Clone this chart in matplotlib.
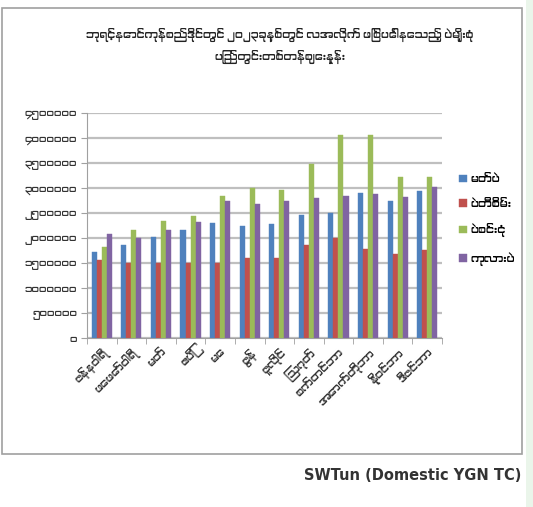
import matplotlib
matplotlib.use("Agg")
import matplotlib.pyplot as plt
import numpy as np
from matplotlib import font_manager as fm
from matplotlib.ft2font import FT2Font
from matplotlib.patches import Rectangle

# ---------------- data ----------------
months = ["ဇန်နဝါရီ", "ဖေဖော်ဝါရီ", "မတ်", "ဧပြီ", "မေ", "ဇွန်",
          "ဇူလိုင်", "ဩဂုတ်", "စက်တင်ဘာ", "အောက်တိုဘာ", "နိုဝင်ဘာ", "ဒီဇင်ဘာ"]
series_names = ["မတ်ပဲ", "ပဲတီစိမ်း", "ပဲစင်းငုံ", "ကုလားပဲ"]
matpe = [1730000, 1870000, 2030000, 2170000, 2300000, 2250000,
         2290000, 2470000, 2500000, 2910000, 2750000, 2950000]
greengram = [1570000, 1500000, 1500000, 1500000, 1500000, 1610000,
             1610000, 1870000, 2000000, 1780000, 1690000, 1770000]
pigeonpea = [1830000, 2170000, 2350000, 2450000, 2850000, 3000000,
             2970000, 3490000, 4070000, 4070000, 3220000, 3220000]
chickpea = [2080000, 2000000, 2170000, 2330000, 2750000, 2690000,
            2750000, 2810000, 2850000, 2890000, 2830000, 3030000]
y_ticks = [0, 500000, 1000000, 1500000, 2000000, 2500000,
           3000000, 3500000, 4000000, 4500000]
title = "ဘုရင့်နောင်ကုန်စည်ဒိုင်တွင် ၂၀၂၃ခုနှစ်တွင် လအလိုက် ဖြစ်ပေါ်နေသည့် ပဲမျိုးစုံ\nပြည်တွင်းတစ်တန်ဈေးနှုန်း"
source = "SWTun (Domestic YGN TC)"

colors = ["#4F81BD", "#C0504D", "#9BBB59", "#8064A2"]

# ---------------- font search (Myanmar glyphs) ----------------
my_font = None
cands = sorted(fm.fontManager.ttflist,
               key=lambda f: 0 if ("myanmar" in f.name.lower() or "padauk" in f.name.lower()) else 1)
for f in cands:
    try:
        cmap = FT2Font(f.fname).get_charmap()
    except Exception:
        continue
    if 0x1000 in cmap and 0x1031 in cmap and 0x1040 in cmap:
        my_font = f.name
        break
fam = [my_font, "DejaVu Sans"] if my_font else ["DejaVu Sans"]
plt.rcParams["font.family"] = fam

burmese_digits = str.maketrans("0123456789", "၀၁၂၃၄၅၆၇၈၉")

W, H = 533, 507
fig = plt.figure(figsize=(W / 100, H / 100), dpi=100)
fig.patch.set_facecolor("white")

# light green strip at right edge and outer chart border
fig.add_artist(Rectangle((526 / W, 0), 7 / W, 1, transform=fig.transFigure,
                         facecolor="#EAF5EA", edgecolor="none", zorder=0))
fig.add_artist(Rectangle((2 / W, 1 - 454 / H), 520 / W, (454 - 8) / H,
                         transform=fig.transFigure, facecolor="white",
                         edgecolor="#A0A0A0", linewidth=1.2, zorder=0))

left, right, top, bottom = 87, 442, 113, 338
ax = fig.add_axes([left / W, 1 - bottom / H, (right - left) / W, (bottom - top) / H])
ax.set_facecolor("white")

x = np.arange(len(months))
bw = 0.17
all_series = [matpe, greengram, pigeonpea, chickpea]
for i, (vals, c, name) in enumerate(zip(all_series, colors, series_names)):
    ax.bar(x + (i - 1.5) * bw, vals, width=bw, color=c, label=name, zorder=3,
           edgecolor=c, linewidth=0.3)

ax.set_xlim(-0.5, len(months) - 0.5)
ax.set_ylim(0, 4500000)
ax.set_yticks(y_ticks)
ax.set_yticklabels([str(v).translate(burmese_digits) for v in y_ticks], fontsize=7.5,
                   color="#333333")
ax.yaxis.grid(True, color="#BFBFBF", linewidth=1.6, zorder=0)
ax.set_axisbelow(True)
for s in ["top", "right"]:
    ax.spines[s].set_visible(False)
ax.spines["left"].set_color("#A0A0A0")
ax.spines["bottom"].set_color("#A0A0A0")
ax.tick_params(axis="y", length=4, color="#A0A0A0", pad=3)
ax.set_xticks(np.arange(len(months) + 1) - 0.5, minor=True)
ax.tick_params(axis="x", which="minor", length=4, color="#A0A0A0")
ax.set_xticks(x)
ax.set_xticklabels(months, rotation=45, ha="right", rotation_mode="anchor",
                   fontsize=8, color="#333333")
ax.tick_params(axis="x", which="major", length=0, pad=6)

handles, labels = ax.get_legend_handles_labels()
fig.legend(handles, labels, loc="upper left",
           bbox_to_anchor=(455 / W, 1 - 170 / H), frameon=False,
           fontsize=8, handlelength=0.7, handleheight=0.7, handletextpad=0.3,
           labelspacing=1.3, borderaxespad=0)

fig.text(280 / W, 1 - 46 / H, title, ha="center", va="center", fontsize=7.8,
         linespacing=1.7, color="#222222", fontweight="bold")
fig.text(521 / W, 1 - 476 / H, source, ha="right", va="center", fontsize=10.5,
         fontweight="bold", color="#333333",
         family=["DejaVu Sans"])

fig.savefig("out.png", dpi=100, facecolor="white")
